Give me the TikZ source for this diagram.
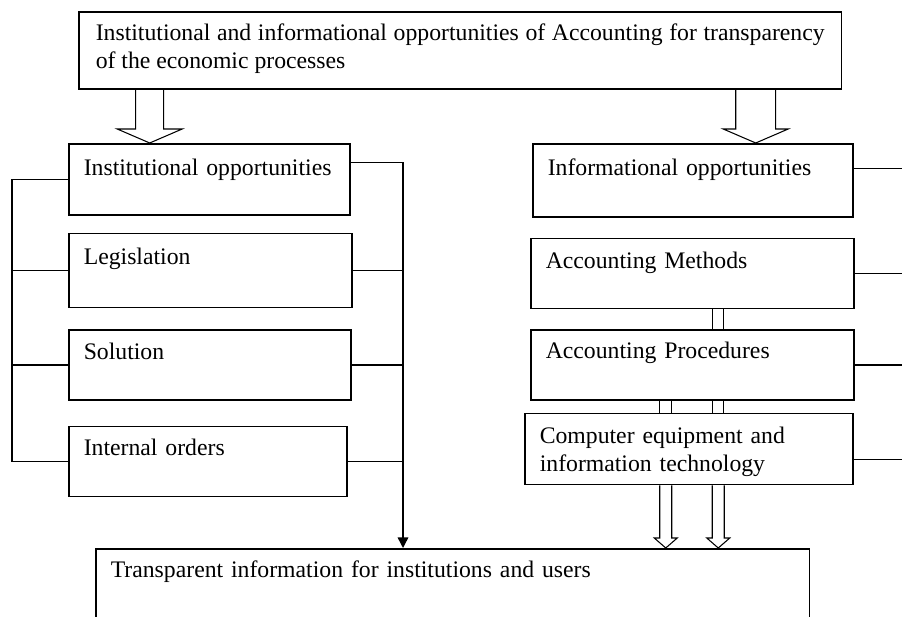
\documentclass[tikz,border=0pt]{standalone}
\usepackage{fontspec}
\setmainfont{Liberation Serif}
\usetikzlibrary{positioning,calc,arrows.meta}

\tikzset{
  box/.style={draw, line width=0.9pt, anchor=north west, align=left,
    inner xsep=0.3cm, inner ysep=0pt, text height=0.6cm},
  link/.style={line width=0.8pt},
  hollow/.style={line width=0.6pt},
}

% hollow block arrow: from #1 down to the level of #2
\newcommand{\hollowarrow}[5]{%
  \draw[hollow] let \p1=#1, \p2=#2 in
    (\x1-#3,\y1) -- (\x1-#3,\y2+#5) -- (\x1-#4,\y2+#5) -- (\x1,\y2)
    -- (\x1+#4,\y2+#5) -- (\x1+#3,\y2+#5) -- (\x1+#3,\y1);}

\begin{document}
\begin{tikzpicture}[x=0.02cm, y=-0.02cm, font=\fontsize{13.5}{15.9}\selectfont]
  \useasboundingbox (0,0) rectangle (902,617);
  \clip (0,0) rectangle (902,617);

  \node[box, align=justify, text width=14.58cm, minimum width=15.26cm, text height=0.58cm, text depth=0.96cm] (top) at (78,11)
    {Institutional and informational opportunities of Accounting for transparency\linebreak of the economic processes};

  % left column
  \node[box, text width=5.02cm, text height=0.64cm, text depth=0.78cm] (inst) at (68,143) {Institutional opportunities};
  \node[box, below=0.34cm of inst.south west, anchor=north west, text width=5.06cm, text height=0.62cm, text depth=0.86cm] (legis) {Legislation};
  \node[box, below=0.42cm of legis.south west, anchor=north west, text width=5.04cm, text depth=0.80cm] (sol) {Solution};
  \node[box, below=0.50cm of sol.south west, anchor=north west, text width=4.96cm, text height=0.58cm, text depth=0.82cm] (int) {Internal orders};

  % right column
  \node[box, text width=5.80cm, text height=0.64cm, text depth=0.82cm] (info) at (532,143) {Informational opportunities};
  \node[box, below=0.40cm of info.south west, anchor=north west, xshift=-0.04cm, text width=5.86cm, text depth=0.80cm] (meth) {Accounting Methods};
  \node[box, below=0.40cm of meth.south west, anchor=north west, text width=5.86cm, text height=0.58cm, text depth=0.82cm] (proc) {Accounting Procedures};
  \node[box, below=0.24cm of proc.south west, anchor=north west, xshift=-0.12cm, text width=5.96cm, text depth=0.82cm] (comp)
    {Computer equipment and\\ information technology};

  \node[box, text width=13.68cm, text height=0.58cm, text depth=1.3cm] (bot) at (95,548) {Transparent information for institutions and users};

  \coordinate (lb) at (12,0);
  \coordinate (rb) at (403,0);
  \coordinate (re) at (902,0);

  % block arrows from the top box
  \hollowarrow{($(top.south)+(-310.5,0)$)}{(inst.north)}{0.28cm}{0.65cm}{0.28cm}
  \hollowarrow{($(top.south)+(295.5,0)$)}{(info.north)}{0.4cm}{0.65cm}{0.28cm}

  % left bus
  \draw[link] (inst.west) -- (inst.west -| lb) -- (int.west -| lb) -- (int.west);
  \draw[link] (legis.west) -- (legis.west -| lb);
  \draw[link] (sol.west) -- (sol.west -| lb);

  % right bus into the result
  \draw[link, -{Triangle[width=6pt,length=6pt]}] ($(inst.east)+(0,-16.5)$) -| (bot.north -| rb);
  \draw[link] (legis.east) -- (legis.east -| rb);
  \draw[link] (sol.east) -- (sol.east -| rb);
  \draw[link] (int.east) -- (int.east -| rb);

  % stubs to the right edge
  \coordinate (s1) at ($(info.east)+(0,-11.5)$);
  \coordinate (s4) at ($(comp.east)+(0,10.5)$);
  \draw[link] (s1) -- (s1 -| re);
  \draw[link] (meth.east) -- (meth.east -| re);
  \draw[link] (proc.east) -- (proc.east -| re);
  \draw[link] (s4) -- (s4 -| re);

  % twin lines between the information boxes
  \draw[hollow] ($(meth.south)+(20.5,0)$) -- ($(proc.north)+(20.5,0)$);
  \draw[hollow] ($(meth.south)+(31.5,0)$) -- ($(proc.north)+(31.5,0)$);
  \draw[hollow] ($(proc.south)+(-32.5,0)$) coordinate (p1) -- (p1 |- comp.north);
  \draw[hollow] ($(proc.south)+(-20.5,0)$) coordinate (p2) -- (p2 |- comp.north);
  \draw[hollow] ($(proc.south)+(20.5,0)$) coordinate (p3) -- (p3 |- comp.north);
  \draw[hollow] ($(proc.south)+(31.5,0)$) coordinate (p4) -- (p4 |- comp.north);

  % block arrows into the result
  \hollowarrow{($(comp.south)+(-23,0)$)}{(bot.north)}{0.12cm}{0.23cm}{0.2cm}
  \hollowarrow{($(comp.south)+(29.5,0)$)}{(bot.north)}{0.12cm}{0.23cm}{0.2cm}
\end{tikzpicture}
\end{document}
